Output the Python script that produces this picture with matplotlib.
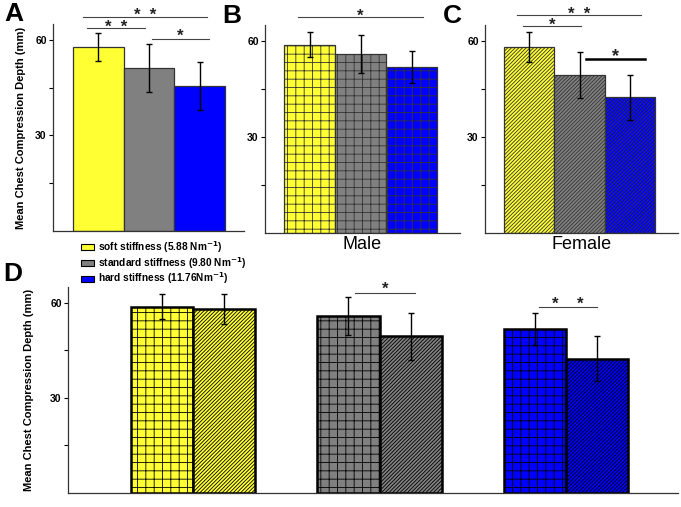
import matplotlib
matplotlib.use('Agg')
import matplotlib.pyplot as plt
from matplotlib.patches import Patch
import numpy as np

plt.rcParams['font.family'] = ['Liberation Sans', 'DejaVu Sans']
plt.rcParams['hatch.linewidth'] = 0.6
plt.rcParams['hatch.color'] = '#222222'
plt.rcParams['mathtext.default'] = 'bf'

# ---- datos ----
stiffness = ['soft stiffness (5.88 Nm$^{-1}$)',
             'standard stiffness (9.80 Nm$^{-1}$)',
             'hard stiffness (11.76Nm$^{-1}$)']
colores = ['#ffff33', '#808080', '#0000ff']

all_mean = [57.8, 51.3, 45.6]
all_err = [4.5, 7.5, 7.6]
male_mean = [58.8, 55.9, 51.8]
male_err = [3.9, 6.0, 5.0]
female_mean = [58.0, 49.4, 42.4]
female_err = [4.7, 7.3, 7.0]

ylabel = 'Mean Chest Compression Depth (mm)'

W, H = 681, 507
fig = plt.figure(figsize=(W / 100, H / 100), dpi=100)

def px_axes(x0, x1, y0, y1):
    # y0 = borde superior, y1 = borde inferior (en pixeles)
    return fig.add_axes([x0 / W, 1 - y1 / H, (x1 - x0) / W, (y1 - y0) / H])

def style(ax, lw=0.9):
    for s in ['top', 'right']:
        ax.spines[s].set_visible(False)
    for s in ['left', 'bottom']:
        ax.spines[s].set_color('#333333')
        ax.spines[s].set_linewidth(lw)
    ax.set_ylim(0, 65)
    ax.set_yticks([30, 60])
    ax.set_yticks([15, 45], minor=True)
    ax.tick_params(axis='y', which='both', direction='out', length=3, width=0.8,
                   labelsize=7.5, pad=1.5)
    for t in ax.get_yticklabels():
        t.set_fontweight('bold')
    ax.set_xticks([])

def sig(ax, x0, x1, y, txt, ty=-1.2, lw=0.8, color='#444444', fs=12):
    ax.plot([x0, x1], [y, y], color=color, lw=lw, clip_on=False)
    ax.text((x0 + x1) / 2, y + ty, txt, ha='center', va='baseline', fontsize=fs,
            fontweight='bold', color='#222222', clip_on=False)

x3 = np.arange(3)
err_kw = dict(ecolor='black', capsize=2.5, elinewidth=1, capthick=1)
diag = '/' * 9

# ---- A ----
axA = px_axes(53, 244, 24, 231)
axA.bar(x3, all_mean, width=1.0, color=colores, edgecolor='#333333', linewidth=0.9,
        yerr=all_err, error_kw=err_kw)
axA.set_xlim(-0.894, 2.875)
style(axA)
axA.set_ylabel(ylabel, fontsize=8, fontweight='bold', labelpad=7)
sig(axA, -0.30, 2.15, 67.3, '*  *')
sig(axA, -0.22, 0.93, 63.75, '*  *')
sig(axA, 1.05, 2.19, 60.3, '*', ty=-0.6)

# ---- B (Male) ----
axB = px_axes(265, 460, 25, 233)
axB.bar(x3, male_mean, width=1.0, color=colores, edgecolor='#333333', linewidth=0.9,
        hatch='++', yerr=male_err, error_kw=err_kw)
axB.set_xlim(-0.873, 2.95)
style(axB)
axB.set_xlabel('Male', fontsize=13, labelpad=2)
sig(axB, -0.225, 2.23, 67.4, '*')

# ---- C (Female) ----
axC = px_axes(485, 678, 25, 233)
axC.bar(x3, female_mean, width=1.0, color=colores, edgecolor='#333333', linewidth=0.9,
        hatch=diag, yerr=female_err, error_kw=err_kw)
axC.set_xlim(-0.873, 2.95)
style(axC)
axC.set_xlabel('Female', fontsize=13, labelpad=2)
sig(axC, -0.23, 2.22, 68.2, '*  *')
sig(axC, -0.13, 1.03, 64.6, '*')
sig(axC, 1.13, 2.30, 54.4, '*', ty=-0.6, lw=1.8, color='black', fs=13)

# ---- D ----
axD = px_axes(68, 678, 287, 493)
w = 0.333
for i in range(3):
    axD.bar(i - w / 2, male_mean[i], width=w, color=colores[i], edgecolor='black',
            linewidth=1.8, hatch='++', yerr=male_err[i], error_kw=err_kw)
    axD.bar(i + w / 2, female_mean[i], width=w, color=colores[i], edgecolor='black',
            linewidth=1.8, hatch=diag, yerr=female_err[i], error_kw=err_kw)
axD.set_xlim(-0.670, 2.60)
style(axD)
axD.set_ylabel(ylabel, fontsize=8, fontweight='bold', labelpad=12)
sig(axD, 0.871, 1.188, 63.2, '*', ty=-0.3)
sig(axD, 1.855, 2.166, 58.8, '*    *', ty=-0.8)

# ---- letras de panel ----
for letra, x, y in [('A', 4, 2), ('B', 222, 4), ('C', 443, 4), ('D', 3, 262)]:
    fig.text(x / W, 1 - y / H, letra, fontsize=19, fontweight='bold', va='top', ha='left')

# ---- leyenda ----
handles = [Patch(facecolor=c, edgecolor='black', linewidth=0.8) for c in colores]
leg = fig.legend(handles, stiffness, loc='upper left', bbox_to_anchor=(76 / W, 1 - 234 / H),
                 frameon=False, prop={'size': 7.3, 'weight': 'bold'}, handlelength=1.3,
                 handleheight=0.55, handletextpad=0.4, labelspacing=0.0, borderpad=0)

fig.savefig('out.png', dpi=100)
